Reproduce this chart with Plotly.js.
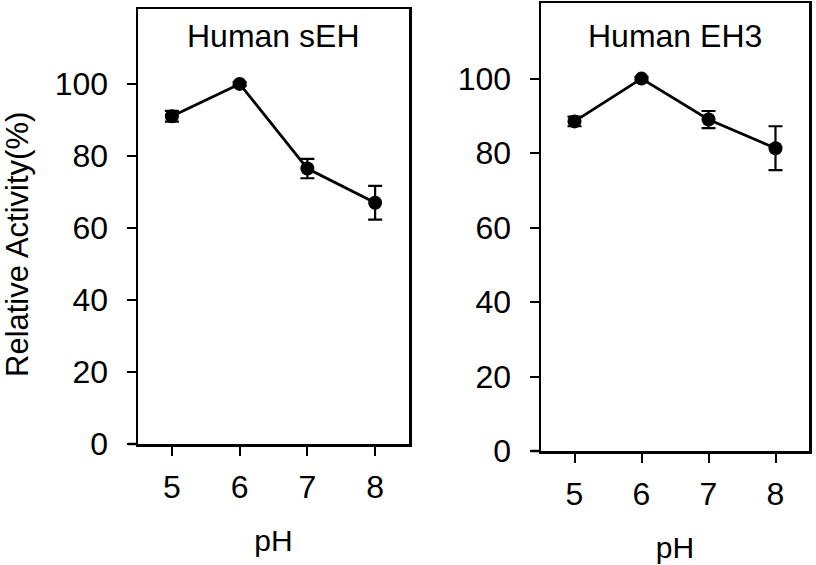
<!DOCTYPE html>
<html>
<head>
<meta charset="utf-8">
<script src="https://cdn.plot.ly/plotly-3.0.1.min.js"></script>
<style>html,body{margin:0;padding:0;background:#fff;}#chart{width:816px;height:565px;}</style>
</head>
<body>
<div id="chart"></div>
<script>
const pH = [5, 6, 7, 8];
const sehActivity = [91, 100, 76.5, 67];
const sehError = [1.5, 0.5, 2.7, 4.7];
const eh3Activity = [88.5, 100, 89, 81.3];
const eh3Error = [1.3, 0.5, 2.3, 5.9];
const panelTitles = ["Human sEH", "Human EH3"];
const xTitle = "pH";
const yTitle = "Relative Activity(%)";

const font = "Liberation Sans, Arial, sans-serif";

function trace(y, err, xa, ya) {
  return {
    x: pH, y: y, xaxis: xa, yaxis: ya, type: 'scatter', mode: 'lines+markers',
    line: {color: '#000', width: 2.8},
    marker: {color: '#000', size: 14, symbol: 'circle'},
    error_y: {type: 'data', array: err, visible: true, color: '#000', thickness: 2.2, width: 7},
    showlegend: false, hoverinfo: 'skip'
  };
}

function xax(domain, anchor) {
  return {
    domain: domain, anchor: anchor, range: [4.5, 8.5],
    tickvals: pH, ticktext: pH.map(String),
    showline: true, mirror: true, linecolor: '#000', linewidth: 2.5,
    ticks: 'outside', ticklen: 9, tickwidth: 2, tickcolor: '#000',
    showgrid: false, zeroline: false,
    tickfont: {family: font, size: 32, color: '#000'},
    ticklabelstandoff: 4,
    title: {text: xTitle, font: {family: font, size: 30, color: '#000'}, standoff: 26}
  };
}
function yax(domain, anchor, range) {
  return {
    domain: domain, anchor: anchor, range: range,
    tickvals: [0, 20, 40, 60, 80, 100],
    showline: true, mirror: true, linecolor: '#000', linewidth: 2.5,
    ticks: 'outside', ticklen: 9, tickwidth: 2, tickcolor: '#000',
    showgrid: false, zeroline: false,
    tickfont: {family: font, size: 32, color: '#000'},
    ticklabelstandoff: 12
  };
}

const layout = {
  width: 816, height: 565,
  margin: {l: 0, r: 0, t: 0, b: 0},
  paper_bgcolor: '#fff', plot_bgcolor: '#fff',
  xaxis: xax([138/816, 409/816], 'y'),
  yaxis: yax([1 - 444/565, 1 - 9/565], 'x', [0, 120.8]),
  xaxis2: xax([541/816, 809/816], 'y2'),
  yaxis2: yax([1 - 451/565, 1 - 3/565], 'x2', [0, 120.3]),
  shapes: [
    {type: 'line', xref: 'x domain', yref: 'y domain', x0: -0.037, x1: 0, y0: 0, y1: 0, line: {color: '#000', width: 2.5}},
    {type: 'line', xref: 'x2 domain', yref: 'y2 domain', x0: -0.037, x1: 0, y0: 0, y1: 0, line: {color: '#000', width: 2.5}}
  ],
  annotations: [
    {text: panelTitles[0], xref: 'x domain', yref: 'paper', x: 0.5, y: 1 - 36/565, xanchor: 'center', yanchor: 'middle', showarrow: false, font: {family: font, size: 32, color: '#000'}},
    {text: panelTitles[1], xref: 'x2 domain', yref: 'paper', x: 0.5, y: 1 - 36/565, xanchor: 'center', yanchor: 'middle', showarrow: false, font: {family: font, size: 32, color: '#000'}},
    {text: yTitle, xref: 'paper', yref: 'paper', x: 17/816, y: 1 - 245/565, xanchor: 'center', yanchor: 'middle', textangle: -90, showarrow: false, font: {family: font, size: 31, color: '#000'}}
  ]
};

Plotly.newPlot('chart', [
  trace(sehActivity, sehError, 'x', 'y'),
  trace(eh3Activity, eh3Error, 'x2', 'y2')
], layout, {staticPlot: true, displayModeBar: false});
</script>
</body>
</html>
